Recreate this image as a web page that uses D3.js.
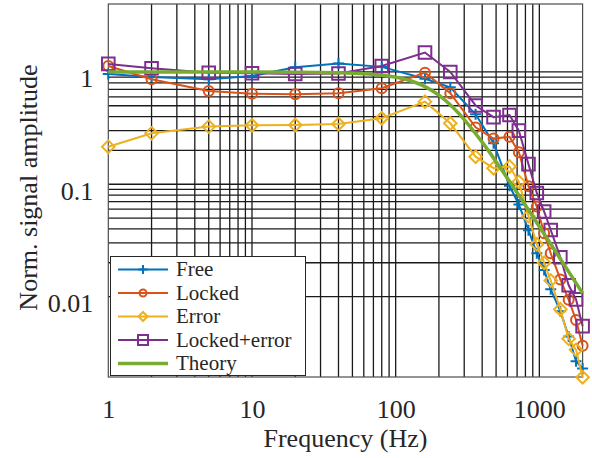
<!DOCTYPE html>
<html>
<head>
<meta charset="utf-8">
<script src="https://cdnjs.cloudflare.com/ajax/libs/d3/7.8.5/d3.min.js"></script>
<style>
    body { margin: 0; background: #fff; }
    #chart text { font-family: "Liberation Serif", "Times New Roman", serif; fill: #262626; }
</style>
</head>
<body>
<div id="chart"></div>
<script>
// measured frequencies (Hz) and normalised amplitudes
var freqs = [1, 2, 5, 10, 20, 40, 80, 160, 240, 360, 480, 620, 720, 840, 960, 1080, 1200, 1400, 1600, 1800, 2000];
var freeVals = [0.96, 0.90, 0.86, 0.92, 1.10, 1.19, 1.11, 0.87, 0.73, 0.42, 0.232, 0.097, 0.066, 0.039, 0.0243, 0.0172, 0.0116, 0.0074, 0.0044, 0.00265, 0.00228];
var lockedVals = [1.13, 0.86, 0.677, 0.641, 0.633, 0.646, 0.716, 0.986, 0.646, 0.321, 0.255, 0.265, 0.193, 0.096, 0.0632, 0.0366, 0.0243, 0.0142, 0.00935, 0.00618, 0.00364];
var errorVals = [0.216, 0.284, 0.326, 0.335, 0.337, 0.344, 0.387, 0.544, 0.349, 0.176, 0.139, 0.144, 0.105, 0.052, 0.0292, 0.020, 0.0139, 0.0077, 0.0042, 0.00335, 0.00191];
var lockedErrVals = [1.18, 1.08, 0.985, 0.975, 0.96, 0.97, 1.13, 1.49, 1.0, 0.503, 0.396, 0.414, 0.30, 0.151, 0.0836, 0.0571, 0.0391, 0.0224, 0.0126, 0.00944, 0.00545];

// theory curve
var theoryFreqs = [1, 5, 10, 20, 40, 60, 80, 100, 130, 160, 200, 250, 300, 400, 500, 600, 800, 1000, 1200, 1500, 2000];
var theoryVals = [1.0, 1.0, 0.999, 0.996, 0.985, 0.966, 0.937, 0.900, 0.827, 0.741, 0.621, 0.484, 0.377, 0.237, 0.159, 0.113, 0.0651, 0.0421, 0.0294, 0.0189, 0.0107];

var xTicks = [1, 10, 100, 1000];
var yTicks = [0.01, 0.1, 1];
var xLimits = [1, 2000];
var yLimits = [0.00192, 4.03];

var series = [
    { name: "Free", values: freeVals, color: "#0072BD", marker: "plus" },
    { name: "Locked", values: lockedVals, color: "#D95319", marker: "circle" },
    { name: "Error", values: errorVals, color: "#EDB120", marker: "diamond" },
    { name: "Locked+error", values: lockedErrVals, color: "#7E2F8E", marker: "square" }
];
var theory = { name: "Theory", color: "#77AC30" };

var W = 592, H = 458;
var pLeft = 108.3, pTop = 4, pRight = 582.6, pBottom = 377;

var svg = d3.select("#chart").append("svg")
    .attr("width", W).attr("height", H);

var x = d3.scaleLog().domain(xLimits).range([pLeft, pRight]);
var y = d3.scaleLog().domain(yLimits).range([pBottom, pTop]);

// grid: all minor x ticks, y only from 0.01 to 1
var grid = svg.append("g").attr("class", "grid")
    .attr("stroke", "#1a1a1a").attr("stroke-width", 1.3);
x.ticks().filter(function(t) { return t > xLimits[0] && t < xLimits[1]; }).forEach(function(t) {
    grid.append("line").attr("x1", x(t)).attr("x2", x(t)).attr("y1", pTop).attr("y2", pBottom);
});
y.ticks().filter(function(t) { return t >= 0.00999 && t <= 1.0001; }).forEach(function(t) {
    grid.append("line").attr("x1", pLeft).attr("x2", pRight).attr("y1", y(t)).attr("y2", y(t));
});

svg.append("rect")
    .attr("x", pLeft).attr("y", pTop)
    .attr("width", pRight - pLeft).attr("height", pBottom - pTop)
    .attr("fill", "none").attr("stroke", "#4d4d4d").attr("stroke-width", 1.2);

// axes
var xAxis = svg.append("g")
    .attr("transform", "translate(0," + pBottom + ")")
    .call(d3.axisBottom(x).tickValues(xTicks).tickSize(0).tickFormat(d3.format("d")));
xAxis.select(".domain").remove();
xAxis.selectAll("text").attr("dy", null).attr("y", 40.5)
    .attr("font-size", 26).attr("font-family", "Liberation Serif");

var yAxis = svg.append("g")
    .attr("transform", "translate(" + pLeft + ",0)")
    .call(d3.axisLeft(y).tickValues(yTicks).tickSize(0).tickPadding(15).tickFormat(function(d) { return String(d); }));
yAxis.select(".domain").remove();
yAxis.selectAll("text").attr("dy", null).attr("y", 15)
    .attr("font-size", 26).attr("font-family", "Liberation Serif");

svg.append("text")
    .attr("x", (pLeft + pRight) / 2).attr("y", 446.5)
    .attr("text-anchor", "middle").attr("font-size", 26)
    .text("Frequency (Hz)");

svg.append("text")
    .attr("transform", "translate(37," + ((pTop + pBottom) / 2 - 3) + ") rotate(-90)")
    .attr("text-anchor", "middle").attr("font-size", 26)
    .text("Norm. signal amplitude");

function markerPath(type, s) {
    if (type === "plus") return "M" + (-s) + ",0H" + s + "M0," + (-s) + "V" + s;
    if (type === "diamond") return "M0," + (-s) + "L" + s + ",0L0," + s + "L" + (-s) + ",0Z";
    if (type === "square") return "M" + (-s) + "," + (-s) + "H" + s + "V" + s + "H" + (-s) + "Z";
    // circle
    return "M" + (-s) + ",0A" + s + "," + s + " 0 1,0 " + s + ",0A" + s + "," + s + " 0 1,0 " + (-s) + ",0Z";
}
var markerSize = { plus: 5.5, circle: 5, diamond: 6.3, square: 6.3 };
var legendMarkerSize = { plus: 4.5, circle: 3.5, diamond: 4.5, square: 5 };

var line = d3.line()
    .x(function(d) { return x(d[0]); })
    .y(function(d) { return y(d[1]); });

series.forEach(function(s) {
    var pts = freqs.map(function(f, i) { return [f, s.values[i]]; });
    var g = svg.append("g");
    g.append("path").attr("d", line(pts))
        .attr("fill", "none").attr("stroke", s.color).attr("stroke-width", 2);
    g.selectAll("path.mk").data(pts).enter().append("path")
        .attr("class", "mk")
        .attr("transform", function(d) { return "translate(" + x(d[0]) + "," + y(d[1]) + ")"; })
        .attr("d", markerPath(s.marker, markerSize[s.marker]))
        .attr("fill", "none").attr("stroke", s.color).attr("stroke-width", 2);
});

var theoryLine = d3.line()
    .x(function(d) { return x(d[0]); })
    .y(function(d) { return y(d[1]); })
    .curve(d3.curveMonotoneX);
svg.append("path")
    .attr("d", theoryLine(theoryFreqs.map(function(f, i) { return [f, theoryVals[i]]; })))
    .attr("fill", "none").attr("stroke", theory.color).attr("stroke-width", 3.5);

// legend
var lg = svg.append("g").attr("class", "legend");
lg.append("rect")
    .attr("x", 110.5).attr("y", 256.5).attr("width", 195).attr("height", 119)
    .attr("fill", "#fff").attr("stroke", "#262626").attr("stroke-width", 1);
series.concat([theory]).forEach(function(s, i) {
    var cy = 269.5 + i * 23.5;
    lg.append("line").attr("x1", 118).attr("x2", 168).attr("y1", cy).attr("y2", cy)
        .attr("stroke", s.color).attr("stroke-width", s.marker ? 2 : 3.5);
    if (s.marker) {
        lg.append("path")
            .attr("transform", "translate(143," + cy + ")")
            .attr("d", markerPath(s.marker, legendMarkerSize[s.marker]))
            .attr("fill", "none").attr("stroke", s.color).attr("stroke-width", 2);
    }
    lg.append("text").attr("x", 176).attr("y", cy + 6.8)
        .attr("font-size", 21).text(s.name);
});
</script>
</body>
</html>
